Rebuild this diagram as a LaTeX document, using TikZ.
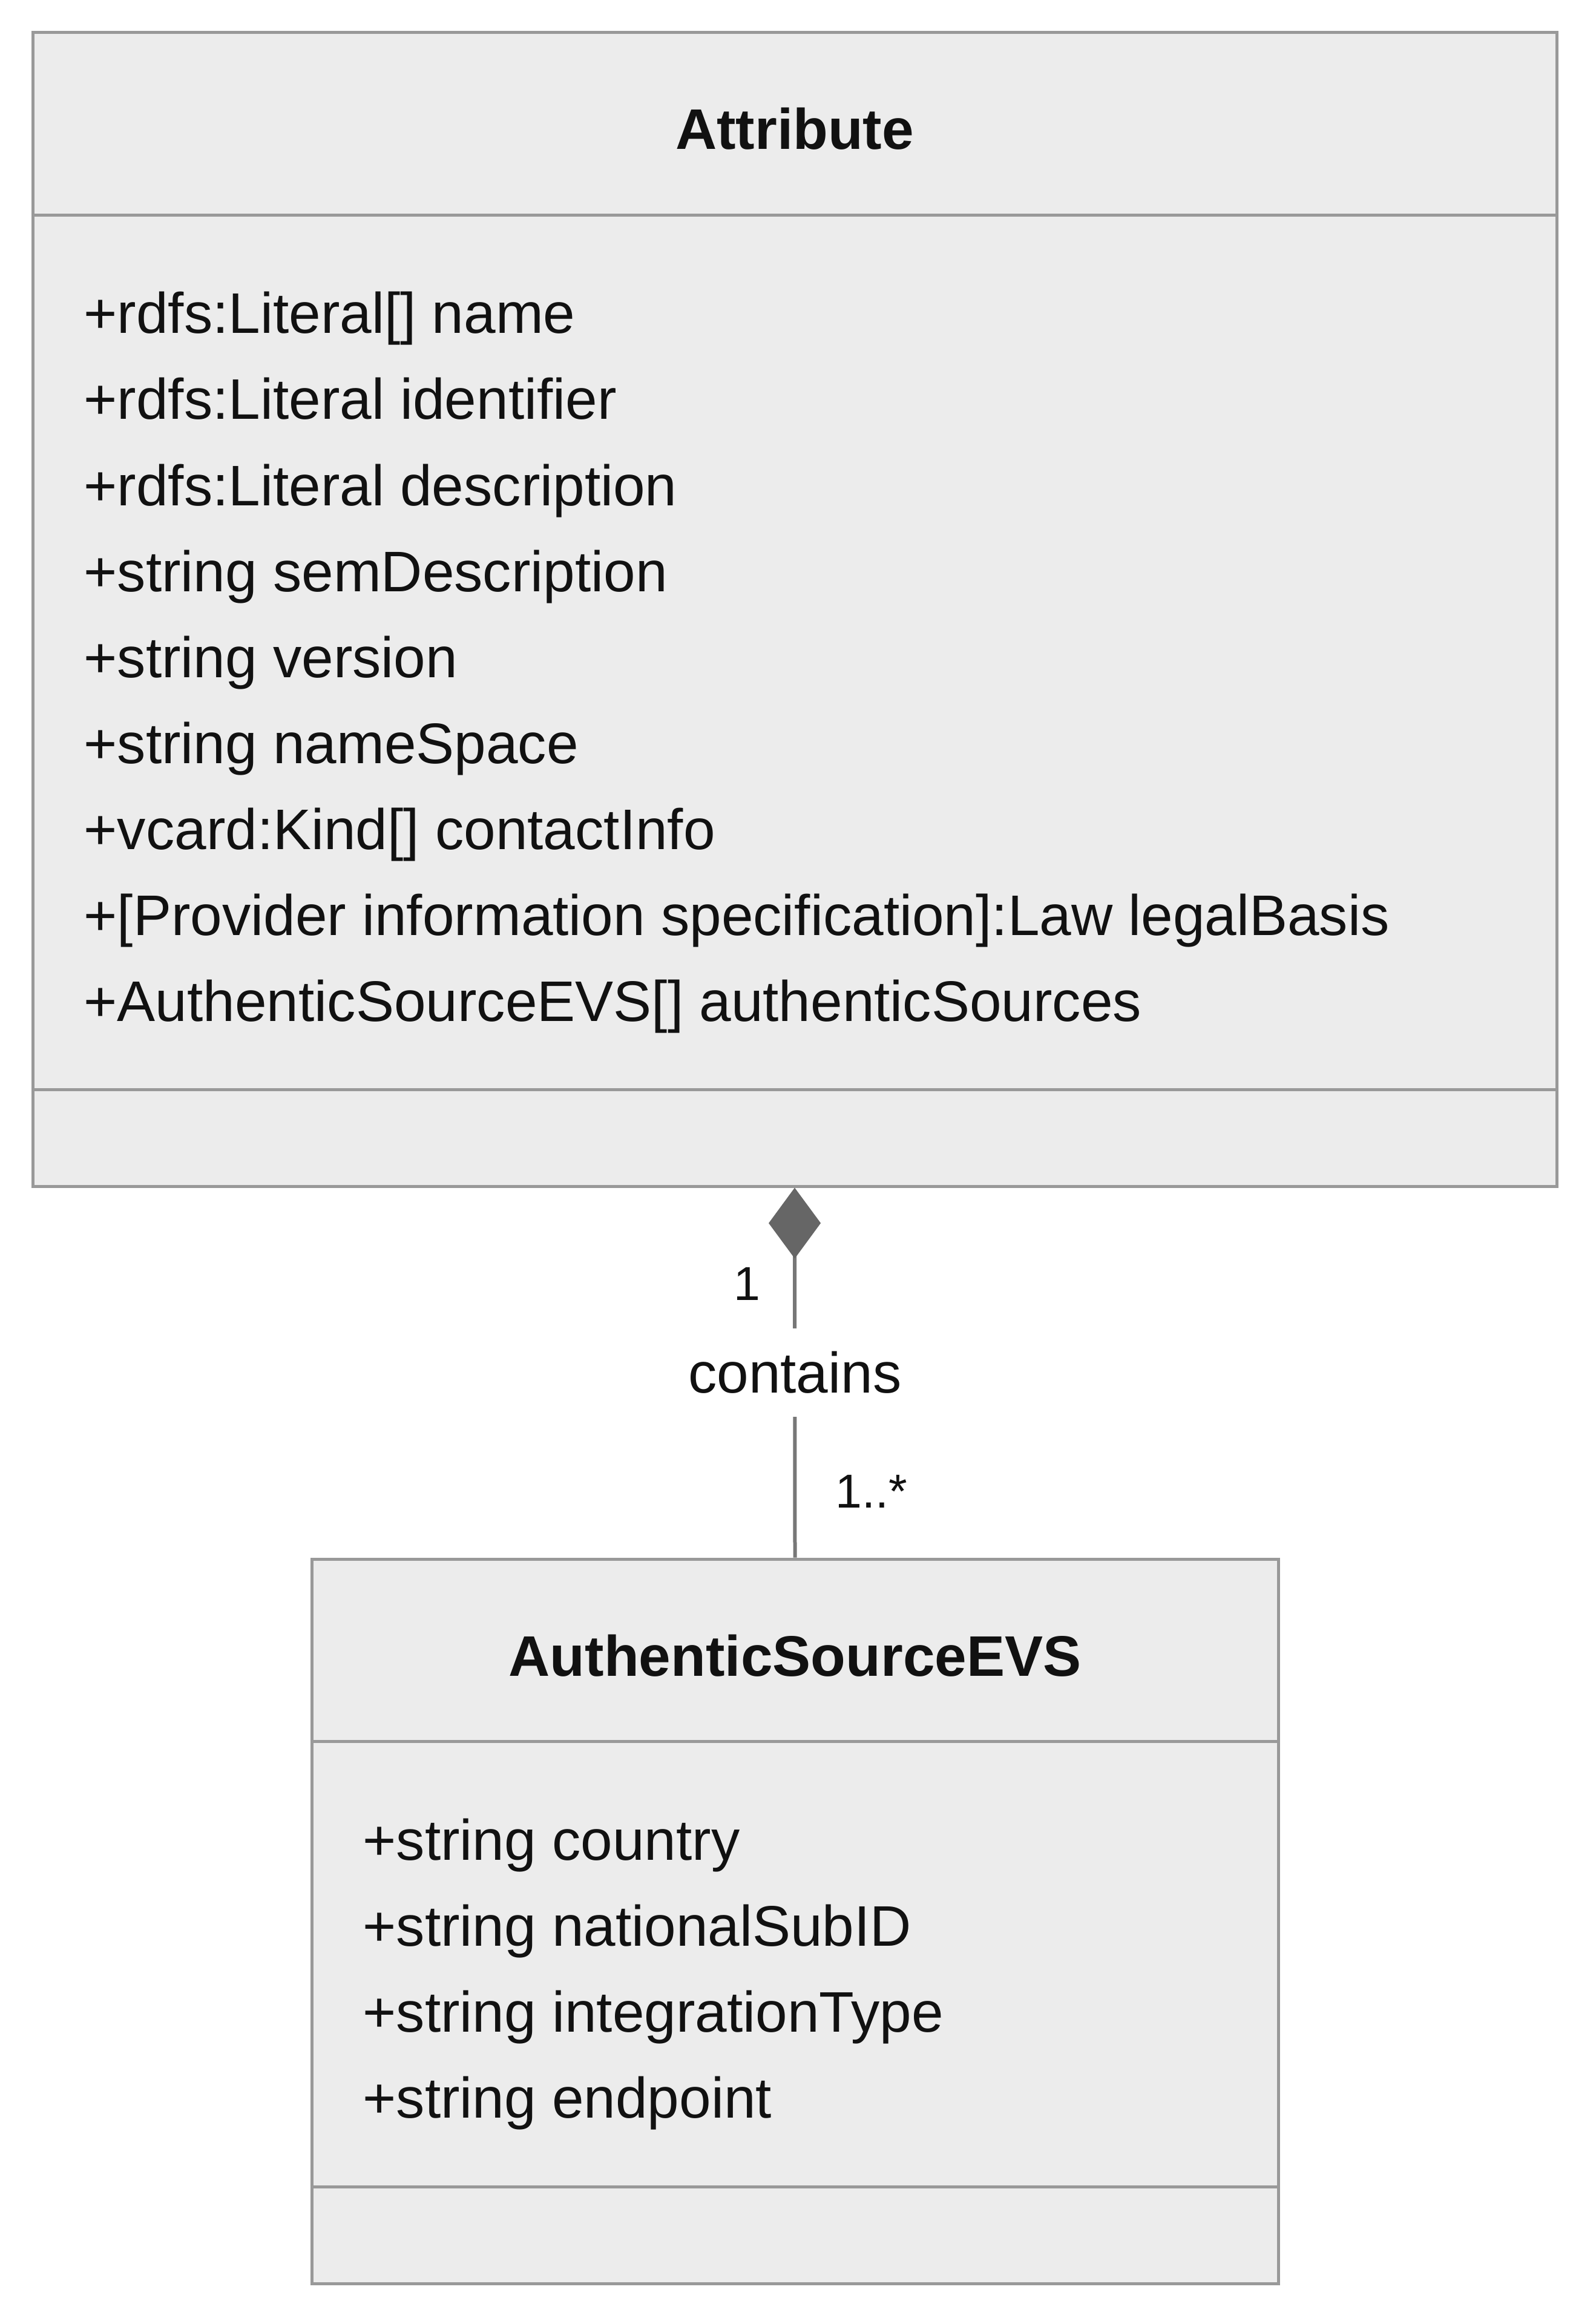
\documentclass[tikz,border=0pt]{standalone}
\usepackage{fontspec}
\setmainfont{Liberation Sans}
\usepackage{tikz}
\usetikzlibrary{arrows.meta,positioning}
\definecolor{boxfill}{RGB}{236,236,236}
\definecolor{boxline}{RGB}{153,153,153}
\definecolor{linkgray}{RGB}{119,119,119}
\definecolor{tipgray}{RGB}{102,102,102}
\definecolor{ink}{RGB}{17,17,17}

\begin{document}
\begin{tikzpicture}[
  every node/.style={font=\fontsize{26.9}{32}\selectfont, text=ink, inner sep=0pt},
  classbox/.style={draw=boxline, line width=0.05cm, fill=boxfill},
  divider/.style={draw=boxline, line width=0.05cm},
  title/.style={font=\fontsize{26.9}{32}\selectfont\bfseries, anchor=base},
  member/.style={anchor=base west},
  mult/.style={font=\fontsize{22.4}{26}\selectfont, anchor=base},
  link/.style={draw=linkgray, line width=0.06cm}
]
\useasboundingbox (0,0) rectangle (26.36,-38.40);
\node[classbox, minimum width=25.18cm, minimum height=19.06cm] (attr) at (13.13,-10.07) {};
\node[classbox, minimum width=15.97cm, minimum height=11.97cm] (src) at (13.135,-31.745) {};

\foreach \n in {attr,src} {
  \draw[divider] ([yshift=-3.04cm]\n.north west) -- ([yshift=-3.04cm]\n.north east);
  \draw[divider] ([yshift=1.62cm]\n.south west) -- ([yshift=1.62cm]\n.south east);
}

\node[title] (attrtitle) at (13.13,-2.47) {Attribute};
\node[title] (srctitle) at (13.135,-27.69) {AuthenticSourceEVS};

\foreach \t [count=\i] in {{+rdfs:Literal[] name}, {+rdfs:Literal identifier}, {+rdfs:Literal description},
    {+string semDescription}, {+string version}, {+string nameSpace}, {+vcard:Kind[] contactInfo},
    {+[Provider information specification]:Law legalBasis}, {+AuthenticSourceEVS[] authenticSources}}
  \node[member] (am\i) at (1.38,{-5.51-1.42*(\i-1)}) {\t};

\foreach \t [count=\i] in {{+string country}, {+string nationalSubID}, {+string integrationType}, {+string endpoint}}
  \node[member] (sm\i) at (5.99,{-30.73-1.42*(\i-1)}) {\t};

\draw[link, {Diamond[length=1.17cm, width=0.86cm, fill=tipgray, color=tipgray]}-] (attr.south)
  -- node[fill=white, inner xsep=0.02cm, inner ysep=0.38cm] (rel) {contains} (src.north);

\node[mult] (m1) at (12.34,-21.48) {1};
\node[mult] (m2) at (14.40,-24.91) {1..*};
\end{tikzpicture}
\end{document}
